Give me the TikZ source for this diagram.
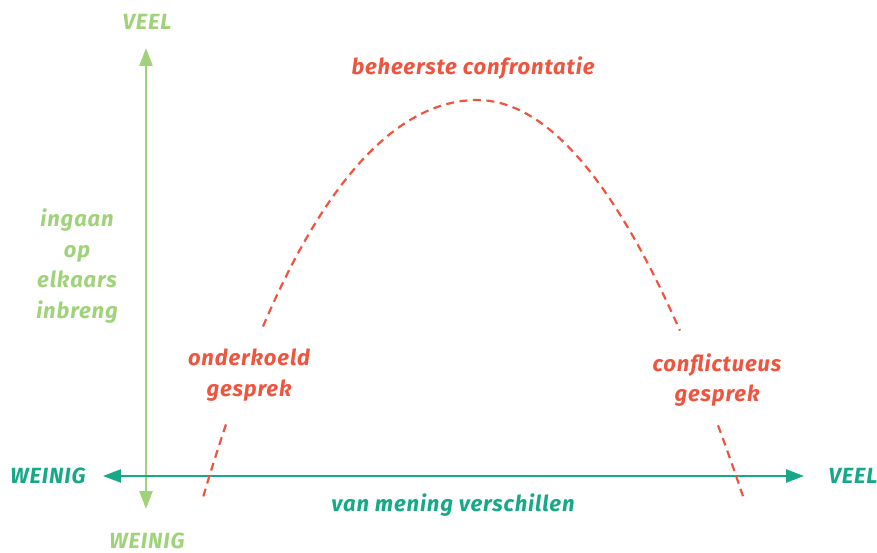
\documentclass[tikz,border=0pt]{standalone}
\usepackage{fontspec}
\newfontfamily\lblfont{Fira Sans}[LetterSpace=4]
\usetikzlibrary{arrows.meta}
\definecolor{axisGreen}{RGB}{160,210,122}
\definecolor{axisTeal}{RGB}{22,169,135}
\definecolor{curveRed}{RGB}{239,84,62}
\tikzset{
  axisarrow/.style={{Triangle[length=3.6mm,width=2.6mm]}-{Triangle[length=3.6mm,width=2.6mm]}, line width=1.4pt},
  curve/.style={draw=curveRed, line width=1.25pt, dash pattern=on 1.6mm off 1.1mm},
  lbl/.style={font=\lblfont\bfseries\itshape\fontsize{12.5}{17.5}\selectfont, align=center, inner sep=0pt},
  greenlbl/.style={lbl, text=axisGreen},
  teallbl/.style={lbl, text=axisTeal},
  redlbl/.style={lbl, text=curveRed}
}
% height of the curve above the axis, u = (x-477)/100
\newcommand{\archeight}[1]{452-((#1)<0 ? 44*(#1)*(#1)+1.19*(#1)*(#1)*(#1)*(#1) : 56*(#1)*(#1))}

\begin{document}
\begin{tikzpicture}[x=0.02cm,y=0.02cm]
  \useasboundingbox (0,0) rectangle (877,552);

  % vertical axis
  \coordinate (ybot) at (146,43);
  \coordinate (ytop) at (146,504);
  \draw[axisarrow, draw=axisGreen] (ybot) -- (ytop);
  \node[greenlbl] (yhigh) at (147,530) {VEEL};
  \node[greenlbl] (ylow) at (147,11) {WEINIG};
  \node[greenlbl] (ytitle) at (77,286) {ingaan\\op\\elkaars\\inbreng};

  % horizontal axis
  \coordinate (xleft) at (103,76);
  \coordinate (xright) at (804,76);
  \draw[axisarrow, draw=axisTeal] (xleft) -- (xright);
  \node[teallbl] (xlow) at (48,76) {WEINIG};
  \node[teallbl] (xhigh) at (853,76) {VEEL};
  \node[teallbl] (xtitle) at (453,47) {van mening verschillen};

  % the curve, broken around its labels
  \draw[curve] plot[domain=-2.14:2.03, samples=60, variable=\u] ({477+100*\u},{\archeight{\u}});
  \draw[curve] plot[domain=-2.51:-2.74, samples=5, variable=\u] ({477+100*\u},{\archeight{\u}});
  \draw[curve] plot[domain=2.41:2.66, samples=5, variable=\u] ({477+100*\u},{\archeight{\u}});

  \node[redlbl] (top) at (473,484) {beheerste confrontatie};
  \node[redlbl] (low) at (249,177) {onderkoeld\\gesprek};
  \node[redlbl] (high) at (717,172) {conflictueus\\gesprek};
\end{tikzpicture}
\end{document}
